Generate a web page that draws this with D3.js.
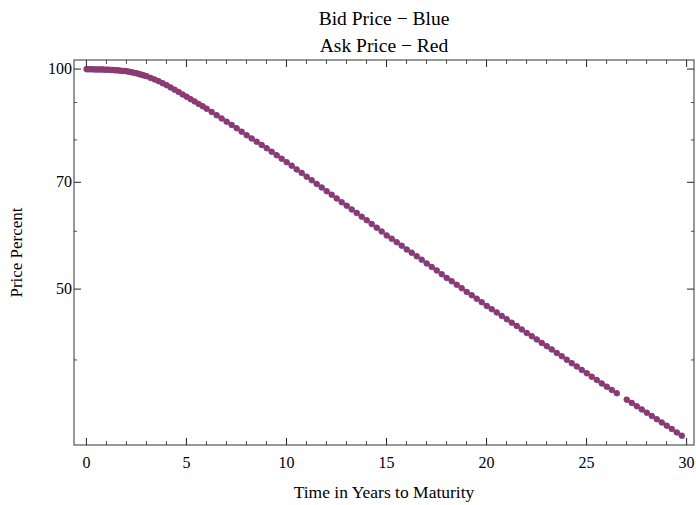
<!DOCTYPE html>
<html>
<head>
<meta charset="utf-8">
<script src="https://cdn.jsdelivr.net/npm/d3@7"></script>
<style>
  body { margin: 0; background: #fff; }
  text { font-family: "Liberation Serif", "Times New Roman", serif; fill: #000; }
</style>
</head>
<body>
<svg id="chart"></svg>
<script>
// time to maturity (years) and price (percent of par)
const years = [
  0.0, 0.1, 0.2, 0.3, 0.4, 0.5, 0.6, 0.7, 0.8, 0.9,
  1.0, 1.1, 1.2, 1.3, 1.4, 1.5, 1.6, 1.7, 1.8, 1.9,
  2.0, 2.1, 2.2, 2.3, 2.4, 2.5, 2.6, 2.7, 2.8, 2.9,
  3.0, 3.2, 3.4, 3.6, 3.8, 4.0, 4.2, 4.4, 4.6, 4.8,
  5.0, 5.2, 5.4, 5.6, 5.8,
  6.0, 6.25, 6.5, 6.75, 7.0, 7.25, 7.5, 7.75, 8.0, 8.25,
  8.5, 8.75, 9.0, 9.25, 9.5, 9.75, 10.0, 10.25, 10.5, 10.75,
  11.0, 11.25, 11.5, 11.75, 12.0, 12.25, 12.5, 12.75, 13.0, 13.25,
  13.5, 13.75, 14.0, 14.25, 14.5, 14.75, 15.0, 15.25, 15.5, 15.75,
  16.0, 16.25, 16.5, 16.75, 17.0, 17.25, 17.5, 17.75, 18.0, 18.25,
  18.5, 18.75, 19.0, 19.25, 19.5, 19.75, 20.0, 20.25, 20.5, 20.75,
  21.0, 21.25, 21.5, 21.75, 22.0, 22.25, 22.5, 22.75, 23.0, 23.25,
  23.5, 23.75, 24.0, 24.25, 24.5, 24.75, 25.0, 25.25, 25.5, 25.75,
  26.0, 26.25, 26.5,
  27.0, 27.25, 27.5, 27.75, 28.0, 28.25, 28.5, 28.75, 29.0, 29.25,
  29.5, 29.75
]
const price = [
  100.00, 100.00, 99.99, 99.99, 99.98, 99.97, 99.95, 99.93, 99.91, 99.89,
  99.87, 99.84, 99.80, 99.77, 99.73, 99.69, 99.63, 99.57, 99.50, 99.44,
  99.37, 99.26, 99.15, 99.01, 98.88, 98.75, 98.57, 98.39, 98.20, 98.01,
  97.82, 97.33, 96.84, 96.29, 95.69, 95.08, 94.43, 93.78, 93.10, 92.40,
  91.71, 91.03, 90.34, 89.66, 88.99,
  88.31, 87.42, 86.52, 85.64, 84.77, 83.91, 83.05, 82.14, 81.24, 80.42,
  79.60, 78.79, 77.99, 77.13, 76.28, 75.45, 74.62, 73.78, 72.95, 72.12,
  71.29, 70.49, 69.69, 68.90, 68.10, 67.34, 66.58, 65.81, 65.05, 64.32,
  63.60, 62.87, 62.14, 61.42, 60.71, 59.99, 59.27, 58.63, 57.99, 57.35,
  56.71, 56.10, 55.49, 54.87, 54.26, 53.66, 53.05, 52.45, 51.84, 51.28,
  50.72, 50.16, 49.60, 49.07, 48.53, 48.00, 47.46, 46.97, 46.48, 45.99,
  45.50, 45.02, 44.55, 44.07, 43.59, 43.14, 42.69, 42.24, 41.79, 41.36,
  40.92, 40.49, 40.05, 39.63, 39.22, 38.80, 38.38, 37.98, 37.58, 37.18,
  36.78, 36.41, 36.05,
  35.31, 34.96, 34.60, 34.25, 33.89, 33.55, 33.22, 32.88, 32.54, 32.20,
  31.86, 31.52
]
const xMajor = [0, 5, 10, 15, 20, 25, 30]
const yMajor = [100, 70, 50]
const yMinor = [90, 80, 60, 40]

const width = 696
const height = 505
const margin = { top: 60, right: 2, bottom: 60, left: 74 }

const svg = d3.select('#chart')
  .attr('width', width)
  .attr('height', height)

const x = d3.scaleLinear()
  .domain([-0.62, 30.37])
  .range([margin.left, width - margin.right])

const y = d3.scaleLog()
  .domain([30.6, 102.9])
  .range([height - margin.bottom, margin.top])

const x0 = margin.left, x1 = width - margin.right
const y0 = height - margin.bottom, y1 = margin.top

// points: blue (bid) underneath, red (ask) on top blending to purple
const pts = years.map((t, i) => ({ t, p: price[i] }))

svg.append('g')
  .selectAll('circle')
  .data(pts)
  .enter()
  .append('circle')
  .attr('cx', d => x(d.t) + 0.5)
  .attr('cy', d => y(d.p) + 0.5)
  .attr('r', 3)
  .attr('fill', '#6a6ad2')

svg.append('g')
  .selectAll('circle')
  .data(pts)
  .enter()
  .append('circle')
  .attr('cx', d => x(d.t))
  .attr('cy', d => y(d.p))
  .attr('r', 3)
  .attr('fill', '#8e3a70')

// frame
svg.append('rect')
  .attr('x', x0)
  .attr('y', y1)
  .attr('width', x1 - x0)
  .attr('height', y0 - y1)
  .attr('fill', 'none')
  .attr('stroke', '#555')
  .attr('stroke-width', 1.2)

const xMinor = d3.range(0, 31, 1).filter(v => !xMajor.includes(v))

// ticks, pointing inward on all four sides
const tick = (x1_, y1_, x2_, y2_, w) => svg.append('line')
  .attr('x1', x1_).attr('y1', y1_).attr('x2', x2_).attr('y2', y2_)
  .attr('stroke', '#222').attr('stroke-width', w)

xMajor.forEach(v => {
  tick(x(v), y0, x(v), y0 - 7, 1)
  tick(x(v), y1, x(v), y1 + 7, 1)
})
xMinor.forEach(v => {
  tick(x(v), y0, x(v), y0 - 4, 0.8)
  tick(x(v), y1, x(v), y1 + 4, 0.8)
})
yMajor.forEach(v => {
  tick(x0, y(v), x0 + 7, y(v), 1)
  tick(x1, y(v), x1 - 7, y(v), 1)
})
yMinor.forEach(v => {
  tick(x0, y(v), x0 + 3, y(v), 0.8)
  tick(x1, y(v), x1 - 3, y(v), 0.8)
})

// tick labels
svg.append('g')
  .selectAll('text')
  .data(xMajor)
  .enter()
  .append('text')
  .attr('x', d => x(d))
  .attr('y', y0 + 23)
  .attr('text-anchor', 'middle')
  .style('font-size', '16px')
  .text(d => d)

svg.append('g')
  .selectAll('text')
  .data(yMajor)
  .enter()
  .append('text')
  .attr('x', x0 - 2)
  .attr('y', d => y(d) + 5)
  .attr('text-anchor', 'end')
  .style('font-size', '16px')
  .text(d => d)

// titles
svg.append('text')
  .attr('x', (x0 + x1) / 2)
  .attr('y', 25)
  .attr('text-anchor', 'middle')
  .style('font-size', '19.5px')
  .text('Bid Price \u2212 Blue')

svg.append('text')
  .attr('x', (x0 + x1) / 2)
  .attr('y', 52)
  .attr('text-anchor', 'middle')
  .style('font-size', '19.5px')
  .text('Ask Price \u2212 Red')

svg.append('text')
  .attr('x', (x0 + x1) / 2)
  .attr('y', 498)
  .attr('text-anchor', 'middle')
  .style('font-size', '17.5px')
  .text('Time in Years to Maturity')

svg.append('text')
  .attr('transform', `translate(22, ${(y0 + y1) / 2}) rotate(-90)`)
  .attr('text-anchor', 'middle')
  .style('font-size', '17px')
  .text('Price Percent')
</script>
</body>
</html>
